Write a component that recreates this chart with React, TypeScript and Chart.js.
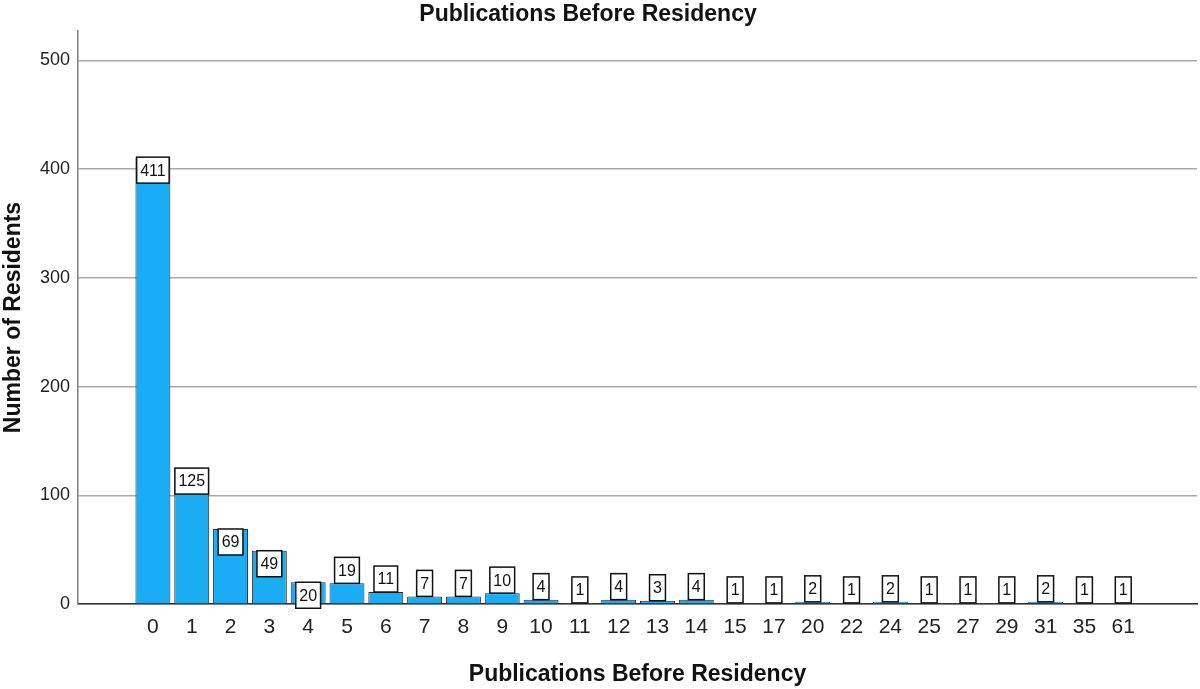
import React, { useEffect, useRef } from "react";
import { Chart, registerables } from "chart.js";

Chart.register(...registerables);

const categories = ["0", "1", "2", "3", "4", "5", "6", "7", "8", "9", "10", "11", "12", "13", "14", "15", "17", "20", "22", "24", "25", "27", "29", "31", "35", "61"];
const residents = [411, 125, 69, 49, 20, 19, 11, 7, 7, 10, 4, 1, 4, 3, 4, 1, 1, 2, 1, 2, 1, 1, 1, 2, 1, 1];
const yTicks = [0, 100, 200, 300, 400, 500];
const chartTitle = "Publications Before Residency";
const xTitle = "Publications Before Residency";
const yTitle = "Number of Residents";

const FONT = "'Liberation Sans', Arial, Helvetica, sans-serif";

const labelPlugin = {
  id: "barLabels",
  afterDatasetsDraw(chart: any) {
    const ctx = chart.ctx;
    const meta = chart.getDatasetMeta(0);
    const yScale = chart.scales.y;
    const zeroPx = yScale.getPixelForValue(0);
    const insideMin = zeroPx - yScale.getPixelForValue(19.5);
    ctx.save();
    ctx.font = `16px ${FONT}`;
    ctx.textAlign = "center";
    ctx.textBaseline = "middle";
    meta.data.forEach((el: any, i: number) => {
      const text = String(residents[i]);
      const w = ctx.measureText(text).width + 7;
      const h = 26;
      const barH = zeroPx - el.y;
      const top = barH >= insideMin ? el.y : el.y - h;
      const left = el.x - w / 2;
      ctx.fillStyle = "#ffffff";
      ctx.fillRect(left, top, w, h);
      ctx.lineWidth = 1.5;
      ctx.strokeStyle = "#111111";
      ctx.strokeRect(left, top, w, h);
      ctx.fillStyle = "#111111";
      ctx.fillText(text, el.x, top + h / 2 + 1);
    });
    ctx.restore();
  },
};

const titlePlugin = {
  id: "topTitle",
  afterDraw(chart: any) {
    const ctx = chart.ctx;
    ctx.save();
    ctx.font = `bold 23px ${FONT}`;
    ctx.fillStyle = "#111111";
    ctx.textAlign = "center";
    ctx.textBaseline = "alphabetic";
    ctx.fillText(chartTitle, 588, 21);
    ctx.restore();
  },
};

export default function App() {
  const ref = useRef<HTMLCanvasElement | null>(null);

  useEffect(() => {
    if (!ref.current) return;
    const chart = new Chart(ref.current, {
      type: "bar",
      data: {
        datasets: [
          {
            data: residents.map((v, i) => ({ x: i, y: v })),
            backgroundColor: "#1aadf3",
            borderColor: "#2b2b2b",
            borderWidth: 1,
            barPercentage: 0.9,
            categoryPercentage: 1.0,
          },
        ],
      },
      options: {
        animation: false,
        responsive: true,
        maintainAspectRatio: false,
        layout: { padding: { top: 31, right: 3, left: 0, bottom: 0 } },
        plugins: {
          legend: { display: false },
          tooltip: { enabled: false },
          title: { display: false },
        },
        scales: {
          x: {
            type: "linear",
            offset: false,
            min: -1.93,
            max: categories.length - 1 + 1.9,
            afterBuildTicks: (scale: any) => {
              scale.ticks = categories.map((_, i) => ({ value: i }));
            },
            afterFit: (scale: any) => {
              scale.height = 85;
            },
            ticks: {
              autoSkip: false,
              maxRotation: 0,
              padding: 11,
              color: "#222222",
              font: { family: FONT, size: 21 },
              callback: (value: any) => categories[value as number] ?? "",
            },
            grid: { display: false, drawTicks: false },
            border: { display: true, color: "#333333", width: 1.5 },
            title: {
              display: true,
              text: xTitle,
              color: "#111111",
              font: { family: FONT, size: 23, weight: "bold" },
              padding: { top: 0, bottom: 1 },
            },
          },
          y: {
            min: 0,
            max: 527,
            afterBuildTicks: (scale: any) => {
              scale.ticks = yTicks.map((v) => ({ value: v }));
            },
            afterFit: (scale: any) => {
              scale.width = 78;
            },
            ticks: {
              padding: 8,
              color: "#222222",
              font: { family: FONT, size: 18 },
            },
            grid: { color: "#aaaaaa", lineWidth: 1.5, drawTicks: false },
            border: { display: true, color: "#808080", width: 1.5 },
            title: {
              display: true,
              text: yTitle,
              color: "#111111",
              font: { family: FONT, size: 23, weight: "bold" },
              padding: { top: 0, bottom: 0 },
            },
          },
        },
      },
      plugins: [labelPlugin, titlePlugin],
    });
    return () => chart.destroy();
  }, []);

  return (
    <div style={{ position: "absolute", left: 0, top: 0, width: 1200, height: 689, background: "#ffffff" }}>
      <canvas ref={ref} />
    </div>
  );
}
